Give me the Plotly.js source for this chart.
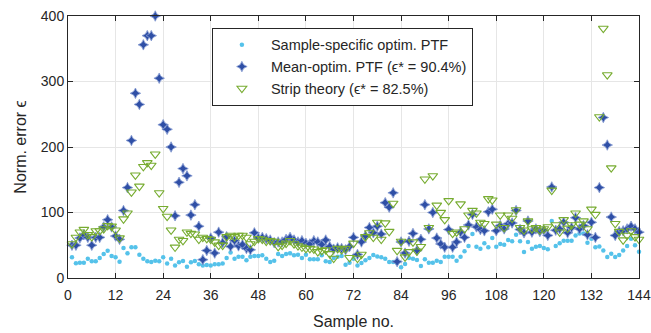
<!DOCTYPE html>
<html>
<head>
<meta charset="utf-8">
<script src="https://cdn.plot.ly/plotly-3.0.1.min.js"></script>
<style>html,body{margin:0;padding:0;background:#fff;}#chart{width:651px;height:333px;}</style>
</head>
<body>
<div id="chart"></div>
<script>
// Sample numbers 1..144
const sampleNo = Array.from({length: 144}, (_, i) => i + 1);

const sampleSpecific = [
  31.6, 22.4, 23.4, 23.4, 29.5, 25.4, 25.4, 30.5, 36.6, 41.7, 33.6, 31.6, 24.9, 45.8, 37.7, 46.8, 46.8, 35.6, 29.5, 25.4, 24.4, 26.5, 25.4, 31.6,
  22, 29.5, 19, 24, 26, 17, 24, 26, 21, 19, 20, 19, 21, 21, 22, 30.5, 39, 29.5, 32.5, 32.5, 27, 32.5, 33.6, 33.6,
  34.6, 29.5, 24.4, 26.5, 36.6, 33.6, 36.6, 37.6, 34.6, 35.6, 30.5, 35.6, 28.5, 28.5, 28.5, 34.6, 25.4, 24.4, 30.5, 32.6, 33.6, 20.4, 23.4, 29.5,
  19, 23, 27, 30.5, 35, 33, 31.5, 29.5, 24.4, 24.4, 23.4, 16.3, 21.4, 30.5, 29.5, 27.5, 18.3, 28.5, 23.4, 23.4, 26.5, 24.4, 32.6, 32.6,
  32.6, 26.5, 32.6, 40.7, 48.9, 67, 47.8, 44.8, 52.9, 46.8, 61, 47.8, 51.9, 50.9, 58, 56, 66, 56, 39.7, 55, 44.8, 47.8, 48.9, 45.8,
  44, 87, 49, 53, 57, 57, 57, 65, 68, 68, 54, 60, 47, 48, 42, 32, 37, 32, 35, 42, 49, 60, 50, 40
];

const meanOptim = [
  50, 50, 61, 66, 62, 50, 62, 62, 78, 89, 78, 64, 59, 103, 138, 210, 282, 265, 356, 370, 370, 400, 305, 234,
  227, 200, 95, 146, 167, 156, 96, 112, 79, 28, 42, 61, 38, 70, 54, 63, 48, 57, 49, 51, 45, 43, 69, 61,
  62, 60, 58, 54, 55, 55, 59, 62, 58, 55, 57, 53, 52, 57, 55, 51, 58, 48, 44, 46, 45, 43, 48, 62,
  36, 55, 64, 77, 69, 79, 67, 115, 108, 130, 25, 55, 38, 56, 68, 42, 59, 112, 75, 100, 61, 52, 47, 74,
  47, 55, 70, 62, 81, 97, 78, 74, 72, 101, 105, 72, 80, 75, 83, 84, 103, 74, 69, 87, 70, 75, 71, 73,
  65, 139, 73, 75, 85, 69, 77, 92, 75, 80, 66, 85, 62, 138, 245, 203, 93, 65, 71, 72, 75, 79, 75, 70
];

const stripTheory = [
  52, 62, 70, 74, 66, 63, 72, 72, 75, 80, 79, 73, 61, 90, 99, 131, 157, 140, 170, 176, 172, 189, 130, 106,
  94, 73, 47, 59, 57, 70, 68, 67, 59, 62, 60, 59, 55, 50, 50, 63, 65, 63, 65, 65, 62, 52, 56, 60,
  59, 56, 57, 56, 48, 50, 53, 57, 52, 49, 47, 45, 45, 44, 40, 42, 43, 37, 30, 45, 43, 45, 31, 53,
  30, 36, 63, 69, 62, 85, 59, 84, 71, 114, 42, 56, 32, 40, 55, 41, 48, 151, 77, 156, 111, 100, 89, 118,
  68, 70, 113, 75, 96, 103, 99, 85, 83, 121, 119, 82, 96, 77, 96, 91, 104, 77, 73, 87, 75, 77, 73, 75,
  78, 134, 81, 70, 89, 76, 81, 99, 82, 87, 75, 105, 97, 246, 381, 310, 168, 83, 71, 58, 65, 72, 63, 59
];

const seriesNames = [
  'Sample-specific optim. PTF',
  'Mean-optim. PTF (ϵ* = 90.4%)',
  'Strip theory (ϵ* = 82.5%)'
];
const xTicks = [0, 12, 24, 36, 48, 60, 72, 84, 96, 108, 120, 132, 144];
const yTicks = [0, 100, 200, 300, 400];

const FONT = 'Liberation Sans, Arial, Helvetica, sans-serif';

const traces = [
  {
    x: sampleNo, y: sampleSpecific, name: seriesNames[0], type: 'scatter', mode: 'markers',
    marker: {symbol: 'circle', size: 4.5, color: '#55C2EA', line: {width: 0}},
    cliponaxis: false
  },
  {
    x: sampleNo, y: meanOptim, name: seriesNames[1], type: 'scatter', mode: 'markers',
    marker: {symbol: 'star-diamond', size: 7.5, color: '#2F4FA6', line: {width: 0.8, color: '#7F95CF'}},
    cliponaxis: false
  },
  {
    x: sampleNo, y: stripTheory, name: seriesNames[2], type: 'scatter', mode: 'markers',
    marker: {symbol: 'triangle-down-open', size: 8.5, color: '#77AC30', line: {width: 1.1, color: '#77AC30'}},
    cliponaxis: false
  }
];

const axisCommon = {
  showline: true, linecolor: '#262626', linewidth: 1, mirror: 'ticks',
  ticks: 'inside', ticklen: 5, tickwidth: 1, tickcolor: '#262626',
  showgrid: true, gridcolor: '#E6E6E6', gridwidth: 1, zeroline: false,
  tickfont: {family: FONT, size: 14, color: '#262626'}
};

const layout = {
  width: 651, height: 333,
  margin: {l: 68, r: 12, t: 16, b: 55},
  paper_bgcolor: '#fff', plot_bgcolor: '#fff',
  showlegend: true,
  xaxis: Object.assign({}, axisCommon, {
    range: [0, 144], tickvals: xTicks, ticktext: xTicks.map(String),
    ticklabelstandoff: 4,
    title: {text: 'Sample no.', font: {family: FONT, size: 16, color: '#262626'}, standoff: 14}
  }),
  yaxis: Object.assign({}, axisCommon, {
    range: [0, 400], tickvals: yTicks, ticktext: yTicks.map(String),
    title: {text: 'Norm. error ϵ', font: {family: FONT, size: 16, color: '#262626'}, standoff: 10}
  }),
  legend: {
    x: 0.252, y: 0.955, xanchor: 'left', yanchor: 'top',
    bgcolor: '#fff', bordercolor: '#262626', borderwidth: 1,
    font: {family: FONT, size: 14.5, color: '#262626'},
    itemwidth: 48, tracegroupgap: 0
  }
};

Plotly.newPlot('chart', traces, layout, {displayModeBar: false, staticPlot: true});
</script>
</body>
</html>
